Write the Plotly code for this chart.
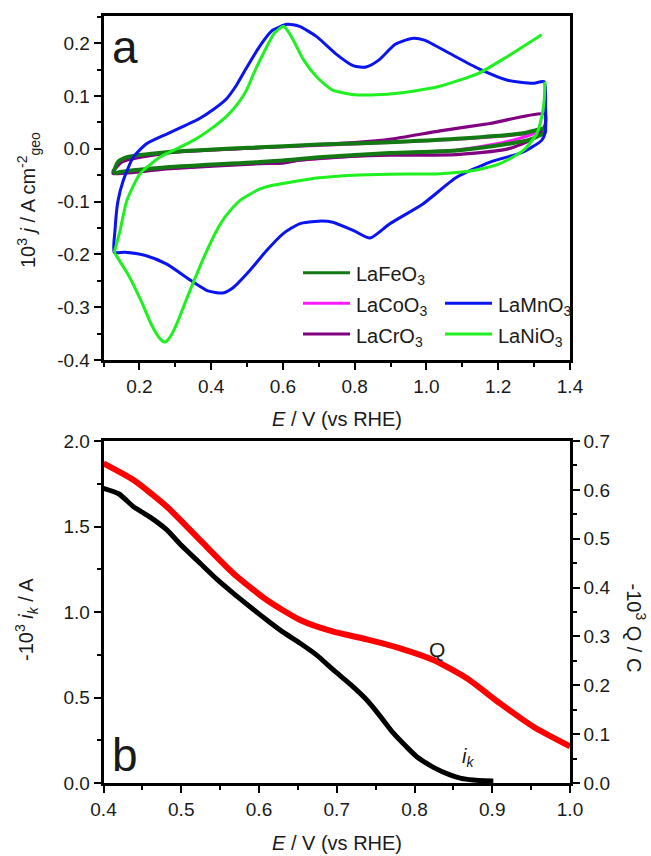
import plotly.graph_objects as go

# ---------------- Panel a: cyclic voltammograms ----------------
E_Mn = [0.130, 0.132, 0.140, 0.155, 0.183, 0.220, 0.276, 0.330, 0.369, 0.405, 0.443, 0.470, 0.499, 0.536, 0.570,
        0.612, 0.646, 0.693, 0.751, 0.797, 0.832, 0.867, 0.913, 0.959, 0.994, 1.064, 1.145, 1.226, 1.296, 1.328,
        1.332, 1.331, 1.321, 1.270, 1.177, 1.084, 0.991, 0.898, 0.843, 0.797, 0.739, 0.700, 0.646, 0.600, 0.554,
        0.507, 0.461, 0.432, 0.391, 0.345, 0.275, 0.217, 0.159, 0.130]
j_Mn = [-0.196, -0.155, -0.100, -0.060, -0.016, 0.0095, 0.028, 0.045, 0.058, 0.074, 0.095, 0.120, 0.154, 0.195, 0.224,
        0.236, 0.232, 0.213, 0.178, 0.157, 0.155, 0.168, 0.198, 0.209, 0.206, 0.181, 0.152, 0.130, 0.124, 0.127,
        0.080, 0.031, 0.016, -0.006, -0.025, -0.054, -0.104, -0.142, -0.169, -0.155, -0.139, -0.137, -0.142, -0.161, -0.193,
        -0.231, -0.263, -0.273, -0.269, -0.250, -0.218, -0.202, -0.196, -0.196]

E_Ni = [0.130, 0.146, 0.165, 0.202, 0.257, 0.295, 0.332, 0.370, 0.406, 0.445, 0.480, 0.500, 0.518, 0.545, 0.575, 0.602,
        0.623, 0.658, 0.693, 0.739, 0.809, 0.913, 1.029, 1.145, 1.226, 1.321, None,
        1.330, 1.328, 1.321, 1.307, 1.270, 1.205, 1.131, 1.038, 0.898, 0.797, 0.700, 0.623, 0.565, 0.536, 0.480,
        0.440, 0.415, 0.380, 0.340, 0.305, 0.285, 0.271, 0.258, 0.235, 0.206, 0.170, 0.140, 0.130]
j_Ni = [-0.196, -0.155, -0.098, -0.047, -0.016, -0.003, 0.0095, 0.024, 0.041, 0.063, 0.091, 0.113, 0.142, 0.180, 0.218, 0.232,
        0.213, 0.168, 0.137, 0.111, 0.102, 0.105, 0.117, 0.143, 0.175, 0.216, None,
        0.127, 0.091, 0.060, 0.028, -0.003, -0.028, -0.041, -0.047, -0.048, -0.050, -0.055, -0.063, -0.070, -0.076, -0.098,
        -0.128, -0.155, -0.205, -0.270, -0.330, -0.357, -0.366, -0.360, -0.335, -0.290, -0.240, -0.207, -0.196]

E_Fe = [0.130, 0.140, 0.165, 0.276, 0.536, 0.700, 0.898, 1.084, 1.270, 1.330,
        1.330, 1.290, 1.224, 1.084, 0.898, 0.700, 0.600, 0.536, 0.276, 0.146, 0.132, 0.128, 0.130]
j_Fe = [-0.040, -0.025, -0.016, -0.0064, 0.003, 0.008, 0.0125, 0.019, 0.0295, 0.038,
        0.031, 0.018, 0.009, -0.003, -0.008, -0.016, -0.022, -0.025, -0.035, -0.044, -0.046, -0.042, -0.040]

E_Co = [0.130, 0.165, 0.276, 0.536, 0.898, 1.084, 1.270, 1.330,
        1.330, 1.270, 1.200, 1.084, 0.898, 0.600, 0.276, 0.130, 0.130]
j_Co = [-0.041, -0.017, -0.007, 0.002, 0.012, 0.018, 0.028, 0.036,
        0.036, 0.022, 0.010, -0.002, -0.009, -0.024, -0.037, -0.046, -0.041]

E_Cr = [0.128, 0.150, 0.276, 0.536, 0.700, 0.800, 0.898, 1.038, 1.177, 1.330,
        1.330, 1.300, 1.224, 1.084, 0.898, 0.700, 0.640, 0.600, 0.536, 0.276, 0.127, 0.128]
j_Cr = [-0.042, -0.025, -0.008, 0.002, 0.008, 0.012, 0.018, 0.034, 0.048, 0.066,
        0.044, 0.020, -0.0005, -0.011, -0.012, -0.018, -0.022, -0.027, -0.028, -0.038, -0.047, -0.042]

# ---------------- Panel b: kinetic current and charge ----------------
E_b_ik = [0.400, 0.420, 0.4386, 0.460, 0.4815, 0.500, 0.5243, 0.545, 0.5671, 0.590, 0.610, 0.630, 0.6529, 0.675,
          0.6957, 0.718, 0.7387, 0.756, 0.7729, 0.790, 0.8029, 0.825, 0.8457, 0.860, 0.8757, 0.890, 0.9014]
ik_vals = [1.723, 1.690, 1.616, 1.555, 1.480, 1.390, 1.285, 1.195, 1.109, 1.025, 0.953, 0.885, 0.817, 0.745,
           0.661, 0.575, 0.485, 0.390, 0.291, 0.210, 0.154, 0.090, 0.047, 0.027, 0.0175, 0.013, 0.012]
E_b_Q = [0.400, 0.4386, 0.4815, 0.5243, 0.5671, 0.610, 0.6529, 0.6957, 0.7387, 0.7815, 0.8243, 0.8672, 0.9100, 0.9528, 1.000]
Q_vals = [0.654, 0.620, 0.5655, 0.497, 0.429, 0.3745, 0.3336, 0.3097, 0.294, 0.2757, 0.2517, 0.2143, 0.163, 0.1152, 0.075]

# tick labels
xa_ticks = [0.2, 0.4, 0.6, 0.8, 1.0, 1.2, 1.4]
ya_ticks = [-0.4, -0.3, -0.2, -0.1, 0.0, 0.1, 0.2]
ya_text = ["-0.4", "-0.3", "-0.2", "-0.1", "0.0", "0.1", "0.2"]
xb_ticks = [0.4, 0.5, 0.6, 0.7, 0.8, 0.9, 1.0]
yb_ticks = [0.0, 0.5, 1.0, 1.5, 2.0]
yq_ticks = [0.0, 0.1, 0.2, 0.3, 0.4, 0.5, 0.6, 0.7]

series_a = [
    ("LaCoO<sub>3</sub>", E_Co, j_Co, "#ff1aff", 3),
    ("LaCrO<sub>3</sub>", E_Cr, j_Cr, "#800080", 3.2),
    ("LaFeO<sub>3</sub>", E_Fe, j_Fe, "#137a13", 4),
    ("LaMnO<sub>3</sub>", E_Mn, j_Mn, "#0a14f0", 3),
    ("LaNiO<sub>3</sub>", E_Ni, j_Ni, "#1ff01f", 3),
]

fig = go.Figure()
for name, xs, ys, col, w in series_a:
    fig.add_trace(go.Scatter(x=xs, y=ys, mode="lines", name=name, xaxis="x", yaxis="y",
                             line=dict(color=col, width=w, shape="spline", smoothing=0.6),
                             connectgaps=False, showlegend=False))

fig.add_trace(go.Scatter(x=E_b_Q, y=Q_vals, mode="lines", name="Q", xaxis="x2", yaxis="y3",
                         line=dict(color="#ff0000", width=6, shape="spline", smoothing=0.6), showlegend=False))
fig.add_trace(go.Scatter(x=E_b_ik, y=ik_vals, mode="lines", name="ik", xaxis="x2", yaxis="y2",
                         line=dict(color="#000000", width=5, shape="spline", smoothing=0.5), showlegend=False))

W, H = 651, 856
xl, xr = 103.5, 570.0
dom_x = [xl / W, xr / W]
dom_ya = [1 - 360 / H, 1 - 16 / H]
dom_yb = [1 - 783 / H, 1 - 441 / H]

FONT = "Arial, Liberation Sans, sans-serif"
TXT = "#1a1a1a"
ax_common = dict(showline=True, linewidth=2.5, linecolor="black", ticks="outside", ticklen=7, tickwidth=2,
                 tickcolor="black", showgrid=False, zeroline=False, automargin=False,
                 tickfont=dict(family=FONT, size=19, color=TXT))

fig.update_layout(
    width=W, height=H, margin=dict(l=0, r=0, t=0, b=0, autoexpand=False),
    paper_bgcolor="white", plot_bgcolor="white", showlegend=False,
    font=dict(family=FONT, size=19, color=TXT),
    xaxis=dict(ax_common, domain=dom_x, range=[0.1, 1.4], anchor="y", mirror=True,
               tickvals=xa_ticks, ticktext=[f"{v:.1f}" for v in xa_ticks],
               minor=dict(ticks="outside", ticklen=4, tickwidth=2, tickcolor="black", dtick=0.1, tick0=0.1)),
    yaxis=dict(ax_common, domain=dom_ya, range=[-0.4, 0.2516], anchor="x", mirror=True,
               tickvals=ya_ticks, ticktext=ya_text,
               minor=dict(ticks="outside", ticklen=4, tickwidth=2, tickcolor="black", dtick=0.05, tick0=0.0)),
    xaxis2=dict(ax_common, domain=dom_x, range=[0.4, 1.0], anchor="y2", mirror=True,
                tickvals=xb_ticks, ticktext=[f"{v:.1f}" for v in xb_ticks],
                minor=dict(ticks="outside", ticklen=4, tickwidth=2, tickcolor="black", dtick=0.05, tick0=0.0)),
    yaxis2=dict(ax_common, domain=dom_yb, range=[0, 2.0], anchor="x2",
                tickvals=yb_ticks, ticktext=[f"{v:.1f}" for v in yb_ticks],
                minor=dict(ticks="outside", ticklen=4, tickwidth=2, tickcolor="black", dtick=0.25, tick0=0.0)),
    yaxis3=dict(ax_common, domain=dom_yb, range=[0, 0.7], anchor="x2", overlaying="y2", side="right",
                tickvals=yq_ticks, ticktext=[f"{v:.1f}" for v in yq_ticks],
                minor=dict(ticks="outside", ticklen=4, tickwidth=2, tickcolor="black", dtick=0.05, tick0=0.0)),
)

ann = []
def A(text, x, y, size=20, angle=0, xanchor="center", yanchor="middle", xref="paper", yref="paper"):
    ann.append(dict(text=text, x=x, y=y, xref=xref, yref=yref, showarrow=False, textangle=angle,
                    xanchor=xanchor, yanchor=yanchor, font=dict(family=FONT, size=size, color=TXT)))

# panel letters
A("a", 125 / W, 1 - 47 / H, size=46)
A("b", 124.7 / W, 1 - 755 / H, size=46)
# axis titles
A("<i>E</i> / V (vs RHE)", 337 / W, 1 - 419 / H, size=20)
A("<i>E</i> / V (vs RHE)", 337 / W, 0.0, size=20, yanchor="bottom")
A("10<sup>3</sup> <i>j</i> / A cm<sup>-2</sup><sub>geo</sub>", 28 / W, 1 - 200 / H, size=20, angle=-90)
A("-10<sup>3</sup> <i>i</i><sub><i>k</i></sub> / A", 26 / W, 1 - 620 / H, size=20, angle=-90)
A("-10<sup>3</sup> Q / C", 1.0, 1 - 628 / H, size=20, angle=90, xanchor="right")
# curve labels in panel b
A("Q", 0.829, 0.78, size=21, xref="x2", yref="y2")
A("<i>i</i><sub><i>k</i></sub>", 0.869, 0.15, size=20, xref="x2", yref="y2")

# manual legend for panel a (two columns, first slot of second column empty)
legend_rows = [
    ("LaFeO<sub>3</sub>", "#137a13", 303, 272.7),
    ("LaCoO<sub>3</sub>", "#ff1aff", 303, 303.3),
    ("LaCrO<sub>3</sub>", "#800080", 303, 334.0),
    ("LaMnO<sub>3</sub>", "#0a14f0", 445, 303.3),
    ("LaNiO<sub>3</sub>", "#1ff01f", 445, 334.0),
]
shapes = []
for txt, col, x0, yc in legend_rows:
    shapes.append(dict(type="line", xref="paper", yref="paper", x0=x0 / W, x1=(x0 + 47) / W,
                       y0=1 - yc / H, y1=1 - yc / H, line=dict(color=col, width=3)))
    A(txt, (x0 + 51) / W, 1 - (yc + 3) / H, size=20, xanchor="left")

fig.update_layout(annotations=ann, shapes=shapes)
fig.write_html("out.html", config={"displayModeBar": False},
               post_script="document.body.style.margin='0px';document.body.style.overflow='hidden';")
